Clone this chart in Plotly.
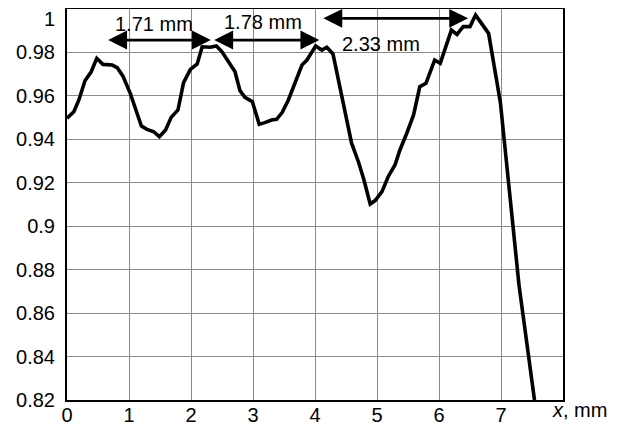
import plotly.graph_objects as go

x_mm = [0.0, 0.11, 0.19, 0.29, 0.39, 0.48, 0.58, 0.73, 0.81, 0.90, 1.02, 1.10, 1.20, 1.29,
        1.40, 1.49, 1.59, 1.68, 1.79, 1.88, 1.99, 2.10, 2.18, 2.31, 2.41, 2.50, 2.63, 2.71,
        2.79, 2.87, 2.99, 3.10, 3.19, 3.30, 3.38, 3.47, 3.57, 3.68, 3.79, 3.87, 4.01, 4.11,
        4.19, 4.29, 4.38, 4.48, 4.59, 4.70, 4.79, 4.89, 4.97, 5.08, 5.18, 5.29, 5.37, 5.48,
        5.59, 5.69, 5.79, 5.93, 6.02, 6.20, 6.29, 6.39, 6.50, 6.59, 6.80, 6.99, 7.29, 7.54]
intensity = [0.9497, 0.9527, 0.958, 0.967, 0.9711, 0.9773, 0.9745, 0.9742, 0.973, 0.9692,
             0.9612, 0.955, 0.9461, 0.9446, 0.9435, 0.9412, 0.9443, 0.9501, 0.9535, 0.9661,
             0.9722, 0.9747, 0.9826, 0.9824, 0.983, 0.9803, 0.975, 0.9711, 0.9624, 0.9593,
             0.9573, 0.9469, 0.9477, 0.9489, 0.9492, 0.9523, 0.9581, 0.9665, 0.9742, 0.9765,
             0.983, 0.9811, 0.9824, 0.9793, 0.9673, 0.9543, 0.9382, 0.9297, 0.9213, 0.9102,
             0.9118, 0.9159, 0.9228, 0.9282, 0.9351, 0.9428, 0.9512, 0.9642, 0.9658, 0.9765,
             0.975, 0.9903, 0.9883, 0.9919, 0.9919, 0.9972, 0.9888, 0.957, 0.873, 0.82]

x_ticks = [0, 1, 2, 3, 4, 5, 6, 7]
y_ticks = [0.82, 0.84, 0.86, 0.88, 0.90, 0.92, 0.94, 0.96, 0.98]
y_tick_text = ["0.82", "0.84", "0.86", "0.88", "0.9", "0.92", "0.94", "0.96", "0.98"]

period_labels = ["1.71 mm", "1.78 mm", "2.33 mm"]
arrow_start = [0.64, 2.35, 4.11]
arrow_end = [2.32, 4.07, 6.47]
arrow_y = [0.9857, 0.9857, 0.9957]
label_x = [1.40, 3.16, 5.06]
label_y = [0.9931, 0.9940, 0.9839]

FONT = "Liberation Sans, Arial, sans-serif"
FS = 20

fig = go.Figure()
fig.add_trace(go.Scatter(x=x_mm, y=intensity, mode="lines",
                         line=dict(color="black", width=3.6), showlegend=False,
                         cliponaxis=True))

anns = []
for xs, xe, ya in zip(arrow_start, arrow_end, arrow_y):
    anns.append(dict(x=xe, y=ya, ax=xs, ay=ya, xref="x", yref="y", axref="x", ayref="y",
                     text="", showarrow=True, arrowhead=2, arrowside="end+start",
                     arrowwidth=2.8, arrowsize=1.35, arrowcolor="black", standoff=0,
                     startstandoff=0))
for t, lx, ly in zip(period_labels, label_x, label_y):
    anns.append(dict(x=lx, y=ly, xref="x", yref="y", text=t, showarrow=False,
                     font=dict(family=FONT, size=FS, color="black"),
                     xanchor="center", yanchor="middle"))
anns.append(dict(x=0, y=1.0, xref="paper", yref="y", text="1", showarrow=False,
                 xanchor="right", yanchor="middle", xshift=-10, yshift=-10,
                 font=dict(family=FONT, size=FS, color="black")))
anns.append(dict(x=1, y=0, xref="paper", yref="paper", text="<i>x</i>, mm", showarrow=False,
                 xanchor="center", yanchor="top", xshift=16, yshift=3,
                 font=dict(family=FONT, size=FS, color="black")))

fig.update_layout(
    width=610, height=419,
    margin=dict(l=59, r=55, t=1, b=27),
    paper_bgcolor="white", plot_bgcolor="white",
    font=dict(family=FONT, size=FS, color="black"),
    annotations=anns,
    xaxis=dict(range=[0, 8], tickvals=x_ticks, ticktext=[str(v) for v in x_ticks],
               showgrid=True, gridcolor="#8a8a8a", gridwidth=1,
               showline=True, linecolor="black", linewidth=2, mirror=True,
               ticks="", ticklabelstandoff=-4, zeroline=False, fixedrange=True,
               automargin=False),
    yaxis=dict(range=[0.82, 1.0], tickvals=y_ticks, ticktext=y_tick_text,
               showgrid=True, gridcolor="#8a8a8a", gridwidth=1,
               showline=True, linecolor="black", linewidth=2, mirror=True,
               ticks="", ticklabelstandoff=6, zeroline=False, fixedrange=True,
               automargin=False),
)

fig.write_html("out.html")
